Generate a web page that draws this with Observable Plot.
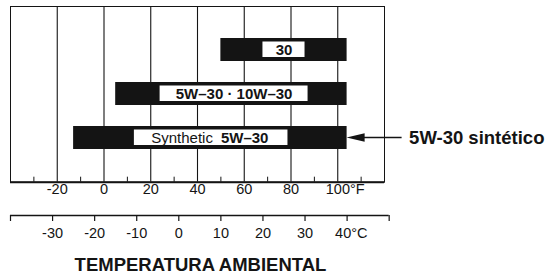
<!DOCTYPE html>
<html><head><meta charset="utf-8">
<script src="https://cdn.jsdelivr.net/npm/d3@7"></script>
<script src="https://cdn.jsdelivr.net/npm/@observablehq/plot@0.6"></script>
<style>html,body{margin:0;padding:0;background:#fff}svg{display:block}</style>
</head><body><div id="chart"></div>
<script>
// ---- data ----
const grades = ["30", "5W-30", "Synthetic"];
const lowF = [50, 5, -13];          // range start (°F)
const highF = [104, 104, 104];      // range end (°F) = 40 °C
const boxLowF = [68, 24, 13];       // white label box start (°F)
const boxHighF = [86, 87.3, 78.7];  // white label box end (°F)
const boldLabels = ["30", "5W–30 · 10W–30", "5W–30"];
const plainLabels = ["", "", "Synthetic"];
const synthSplitF = 48.3;           // gap between "Synthetic" and "5W–30"
const fGrid = [-20, 0, 20, 40, 60, 80, 100];
const fMinor = [-30, -10, 10, 30, 50, 70, 90, 110];
const fTickLabels = ["-20", "0", "20", "40", "60", "80", "100°F"];
const cTicks = [-40, -30, -20, -10, 0, 10, 20, 30, 40, 50];
const cTickLabels = ["", "-30", "-20", "-10", "0", "10", "20", "30", "40°C", ""];
const arrowLabel = "5W-30 sintético";
const axisTitle = "TEMPERATURA AMBIENTAL";

// ---- layout ----
const W = 547, H = 280;
const mTop = 6, mBottom = 98.3, mLeft = 10, mRight = 163;
const frameH = H - mTop - mBottom;
const ink = "#141414";
const c2f = c => c * 9 / 5 + 32;

const rows = grades.map((g, i) => ({
  grade: g, lo: lowF[i], hi: highF[i], bLo: boxLowF[i], bHi: boxHighF[i],
  bold: boldLabels[i], plain: plainLabels[i], mid: (boxLowF[i] + boxHighF[i]) / 2
}));
const centered = rows.filter(d => !d.plain);
const split = rows.filter(d => d.plain);

const arrowMark = (index, scales) => {
  const x = scales.x, y = scales.y;
  const bw = y.bandwidth ? y.bandwidth() : 0;
  const g = d3.create("svg:g");
  const d = rows[2];
  const tip = x(d.hi), yc = y(d.grade) + bw / 2;
  g.append("line").attr("x1", tip + 14).attr("x2", tip + 55)
    .attr("y1", yc).attr("y2", yc).attr("stroke", ink).attr("stroke-width", 1.4);
  g.append("path").attr("d", `M${tip},${yc}L${tip + 18},${yc - 4.2}L${tip + 18},${yc + 4.2}Z`)
    .attr("fill", ink);
  return g.node();
};

const chart = Plot.plot({
  width: W, height: H,
  marginTop: mTop, marginBottom: mBottom, marginLeft: mLeft, marginRight: mRight,
  style: {fontFamily: "'Liberation Sans', Arial, sans-serif", fontSize: "14px", background: "#fff", color: ink, overflow: "visible"},
  x: {domain: [-40, 120], axis: null},
  y: {domain: grades, paddingInner: 0.47, paddingOuter: 0.70, axis: null},
  marks: [
    Plot.ruleX(fGrid, {stroke: ink, strokeWidth: 1.1}),
    Plot.frame({stroke: ink, strokeWidth: 1}),
    Plot.ruleY([0], {y: null, x1: -40, x2: 120, stroke: ink, strokeWidth: 2, dy: frameH / 2}),
    Plot.ruleX(fMinor, {stroke: ink, insetTop: frameH - 5}),
    Plot.barX(rows, {x1: "lo", x2: "hi", y: "grade", fill: ink}),
    Plot.barX(rows, {x1: "bLo", x2: "bHi", y: "grade", fill: "#fff", insetTop: 3.5, insetBottom: 4}),
    Plot.text(centered, {x: "mid", y: "grade", text: "bold", fontWeight: "bold", fontSize: 15, fill: ink}),
    Plot.text(split, {x: () => synthSplitF, y: "grade", text: "plain", textAnchor: "end", dx: -4, fontSize: 15, fill: ink}),
    Plot.text(split, {x: () => synthSplitF, y: "grade", text: "bold", textAnchor: "start", dx: 4, fontWeight: "bold", fontSize: 15, fill: ink}),
    arrowMark,
    Plot.text(split, {x: "hi", y: "grade", text: () => arrowLabel, textAnchor: "start", dx: 62, fontWeight: "bold", fontSize: 18.5, fill: ink}),
    Plot.text(fGrid.slice(0, -1), {x: d => d, text: (d, i) => fTickLabels[i], frameAnchor: "bottom", dy: 12, fontSize: 14.5, fill: ink}),
    Plot.text(fGrid.slice(-1), {x: d => d, text: () => fTickLabels[fTickLabels.length - 1], frameAnchor: "bottom", textAnchor: "start", dx: -12, dy: 12, fontSize: 14.5, fill: ink}),
    Plot.ruleY([0], {y: null, x1: c2f(cTicks[0]), x2: c2f(cTicks[cTicks.length - 1]), stroke: ink, strokeWidth: 1.3, dy: frameH / 2 + 33.3}),
    Plot.ruleX(cTicks, {x: c2f, stroke: ink, strokeWidth: 1.2, insetTop: frameH + 33.3, insetBottom: -39.3}),
    Plot.text(cTicks.slice(1, -2), {x: c2f, text: (d, i) => cTickLabels[i + 1], frameAnchor: "bottom", dy: 55.5, fontSize: 14.5, fill: ink}),
    Plot.text([40], {x: c2f, text: () => cTickLabels[8], frameAnchor: "bottom", textAnchor: "start", dx: -12, dy: 55.5, fontSize: 14.5, fill: ink}),
    Plot.text([axisTitle], {text: d => d, frameAnchor: "bottom", dx: 3, dy: 88.5, fontWeight: "bold", fontSize: 18.5, fill: ink})
  ]
});
document.getElementById("chart").append(chart);
</script>
</body></html>
